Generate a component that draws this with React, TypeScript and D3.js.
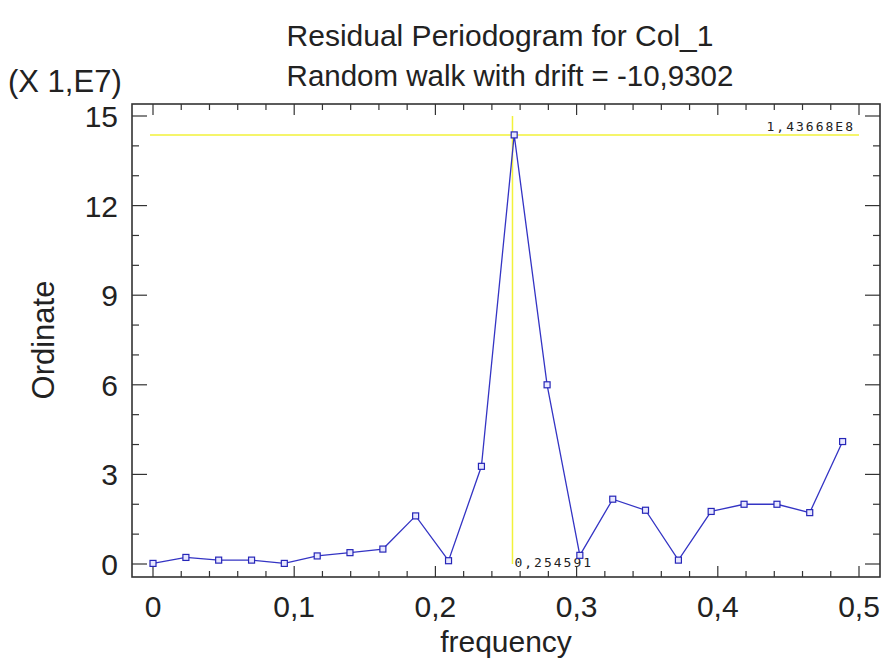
import React, { useEffect, useRef } from 'react';
import * as d3 from 'd3';

// periodogram ordinates (units of 1E7) at frequencies k/43
const frequencies = [
  0, 0.0233, 0.0465, 0.0698, 0.093, 0.1163, 0.1395, 0.1628, 0.186, 0.2093, 0.2326,
  0.2558, 0.2791, 0.3023, 0.3256, 0.3488, 0.3721, 0.3953, 0.4186, 0.4419, 0.4651, 0.4884,
];
const ordinates = [
  0.02, 0.22, 0.13, 0.13, 0.02, 0.27, 0.38, 0.5, 1.61, 0.11, 3.27,
  14.3668, 6.0, 0.29, 2.17, 1.8, 0.13, 1.76, 2.0, 2.0, 1.72, 4.1,
];
const xTicks = [0, 0.1, 0.2, 0.3, 0.4, 0.5];
const yTicks = [0, 3, 6, 9, 12, 15];
const peakFreq = 0.254591;
const peakValue = 14.3668;
const peakFreqLabel = '0,254591';
const peakValueLabel = '1,43668E8';

const title = 'Residual Periodogram for Col_1';
const subtitle = 'Random walk with drift = -10,9302';
const scaleNote = '(X 1,E7)';
const xLabel = 'frequency';
const yLabel = 'Ordinate';

const fmt = (v: number) => String(v).replace('.', ',');

export default function App() {
  const ref = useRef<SVGSVGElement>(null);

  useEffect(() => {
    const svg = d3.select(ref.current);
    svg.selectAll('*').remove();

    const width = 882;
    const height = 664;
    const frame = { left: 132, right: 880, top: 104, bottom: 577 };
    const font = '"Liberation Sans", Arial, sans-serif';

    const x = d3.scaleLinear().domain([0, 0.5]).range([153, 859]);
    const y = d3.scaleLinear().domain([0, 15]).range([564, 116]);

    svg.append('rect').attr('width', width).attr('height', height).attr('fill', '#fff');

    // titles
    svg.append('text').attr('x', 500).attr('y', 46).attr('text-anchor', 'middle')
      .attr('font-family', font).attr('font-size', 30).attr('fill', '#222').text(title);
    svg.append('text').attr('x', 510).attr('y', 86).attr('text-anchor', 'middle')
      .attr('font-family', font).attr('font-size', 29.5).attr('fill', '#222').text(subtitle);
    svg.append('text').attr('x', 8).attr('y', 92)
      .attr('font-family', font).attr('font-size', 31).attr('fill', '#222').text(scaleNote);

    // crosshair
    svg.append('line')
      .attr('x1', x(0) - 3).attr('x2', x(0.5))
      .attr('y1', y(peakValue)).attr('y2', y(peakValue))
      .attr('stroke', '#f2f23a').attr('stroke-width', 1.5);
    svg.append('line')
      .attr('x1', x(peakFreq)).attr('x2', x(peakFreq))
      .attr('y1', y(15)).attr('y2', y(0))
      .attr('stroke', '#f2f23a').attr('stroke-width', 1.5);

    svg.append('text').attr('x', x(0.5) - 4).attr('y', y(peakValue) - 4).attr('text-anchor', 'end')
      .attr('font-family', '"DejaVu Sans Mono", monospace').attr('font-size', 13)
      .attr('letter-spacing', 2).attr('fill', '#222').text(peakValueLabel);
    svg.append('text').attr('x', x(peakFreq) + 2).attr('y', y(0) + 3)
      .attr('font-family', '"DejaVu Sans Mono", monospace').attr('font-size', 13)
      .attr('letter-spacing', 2).attr('fill', '#222').text(peakFreqLabel);

    // frame
    svg.append('rect')
      .attr('x', frame.left).attr('y', frame.top)
      .attr('width', frame.right - frame.left).attr('height', frame.bottom - frame.top)
      .attr('fill', 'none').attr('stroke', '#333').attr('stroke-width', 1.6);

    const ticks = svg.append('g').attr('stroke', '#333').attr('stroke-width', 1.2);
    const xMinor = d3.range(0, 0.5001, 0.02);
    xMinor.forEach(v => {
      const major = xTicks.some(t => Math.abs(t - v) < 1e-6);
      const len = major ? 11 : 6;
      ticks.append('line').attr('x1', x(v)).attr('x2', x(v))
        .attr('y1', frame.bottom).attr('y2', frame.bottom - len);
      ticks.append('line').attr('x1', x(v)).attr('x2', x(v))
        .attr('y1', frame.top).attr('y2', frame.top + len);
    });
    const yMinor = d3.range(0, 15.001, 1);
    yMinor.forEach(v => {
      const major = yTicks.includes(v);
      const len = major ? 15 : 7;
      ticks.append('line').attr('x1', frame.left).attr('x2', frame.left + len)
        .attr('y1', y(v)).attr('y2', y(v));
      ticks.append('line').attr('x1', frame.right).attr('x2', frame.right - len)
        .attr('y1', y(v)).attr('y2', y(v));
    });

    // tick labels
    svg.append('g').selectAll('text').data(xTicks).enter().append('text')
      .attr('x', d => x(d)).attr('y', 617).attr('text-anchor', 'middle')
      .attr('font-family', font).attr('font-size', 30).attr('fill', '#222')
      .text(d => fmt(d));
    svg.append('g').selectAll('text').data(yTicks).enter().append('text')
      .attr('x', 118).attr('y', d => y(d) + 11).attr('text-anchor', 'end')
      .attr('font-family', font).attr('font-size', 30).attr('fill', '#222')
      .text(d => fmt(d));

    // axis titles
    svg.append('text').attr('x', 506).attr('y', 652).attr('text-anchor', 'middle')
      .attr('font-family', font).attr('font-size', 30).attr('fill', '#222').text(xLabel);
    svg.append('text').attr('transform', 'translate(54,340) rotate(-90)').attr('text-anchor', 'middle')
      .attr('font-family', font).attr('font-size', 31).attr('fill', '#222').text(yLabel);

    // series
    const data = frequencies.map((f, i) => ({ f, v: ordinates[i] }));
    const line = d3.line<{ f: number; v: number }>().x(d => x(d.f)).y(d => y(d.v));
    svg.append('path').datum(data).attr('d', line)
      .attr('fill', 'none').attr('stroke', '#3434c4').attr('stroke-width', 1.3);
    svg.append('g').selectAll('rect').data(data).enter().append('rect')
      .attr('x', d => x(d.f) - 3).attr('y', d => y(d.v) - 3)
      .attr('width', 6).attr('height', 6)
      .attr('fill', '#e8e8ff').attr('stroke', '#2626b8').attr('stroke-width', 1.2);
  }, []);

  return (
    <svg ref={ref} width={882} height={664}
      style={{ position: 'absolute', left: 0, top: 0, display: 'block' }} />
  );
}
